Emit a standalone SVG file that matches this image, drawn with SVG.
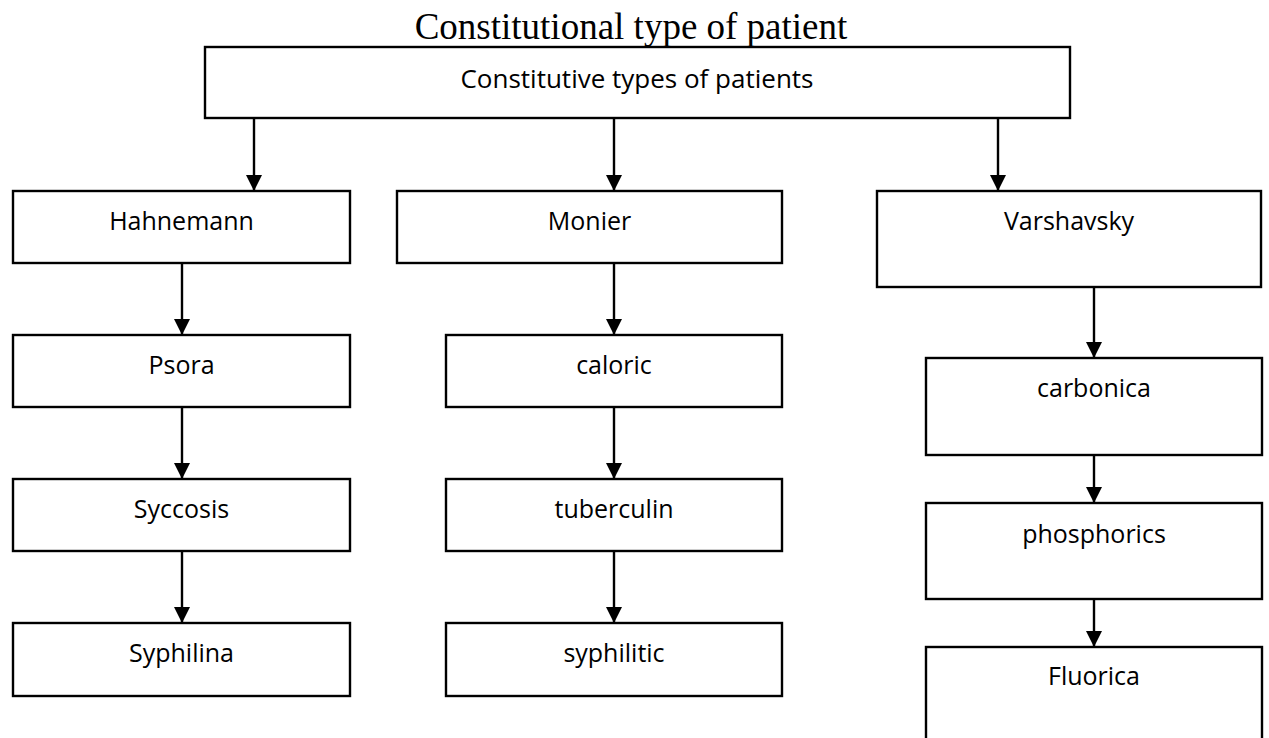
<svg xmlns="http://www.w3.org/2000/svg" width="1269" height="738" viewBox="0 0 1269 738">
<style>
.box{fill:#fff;stroke:#000;stroke-width:2.4}
.lbl{font-family:"Open Sans","Noto Sans",sans-serif;font-size:25px;fill:#000;text-anchor:middle}
.title{font-family:"Liberation Serif","Times New Roman",serif;font-size:37px;fill:#000;text-anchor:middle}
.con{stroke:#000;stroke-width:2.4;fill:none;marker-end:url(#ah)}
</style>
<defs>
<marker id="ah" markerUnits="userSpaceOnUse" markerWidth="17" markerHeight="16" refX="16" refY="8" orient="auto" viewBox="0 0 17 16">
<path d="M0,0 L16,8 L0,16 z" fill="#000"/>
</marker>
</defs>
<rect width="1269" height="738" fill="#fff"/>
<text class="title" x="631" y="39">Constitutional type of patient</text>
<g id="connectors">
<line class="con" x1="254" y1="118" x2="254" y2="191"/>
<line class="con" x1="614" y1="118" x2="614" y2="191"/>
<line class="con" x1="998" y1="118" x2="998" y2="191"/>
<line class="con" x1="182" y1="263" x2="182" y2="335"/>
<line class="con" x1="182" y1="407" x2="182" y2="479"/>
<line class="con" x1="182" y1="551" x2="182" y2="623"/>
<line class="con" x1="614" y1="263" x2="614" y2="335"/>
<line class="con" x1="614" y1="407" x2="614" y2="479"/>
<line class="con" x1="614" y1="551" x2="614" y2="623"/>
<line class="con" x1="1094" y1="287" x2="1094" y2="358"/>
<line class="con" x1="1094" y1="455" x2="1094" y2="503"/>
<line class="con" x1="1094" y1="599" x2="1094" y2="647"/>
</g>
<g id="root"><rect class="box" x="205" y="47" width="865" height="71"/><text class="lbl" x="637" y="88" style="font-size:26px">Constitutive types of patients</text></g>
<g id="hahnemann"><rect class="box" x="13" y="191" width="337" height="72"/><text class="lbl" x="181.5" y="230">Hahnemann</text></g>
<g id="psora"><rect class="box" x="13" y="335" width="337" height="72"/><text class="lbl" x="181.5" y="374">Psora</text></g>
<g id="syccosis"><rect class="box" x="13" y="479" width="337" height="72"/><text class="lbl" x="181.5" y="518">Syccosis</text></g>
<g id="syphilina"><rect class="box" x="13" y="623" width="337" height="73"/><text class="lbl" x="181.5" y="662">Syphilina</text></g>
<g id="monier"><rect class="box" x="397" y="191" width="385" height="72"/><text class="lbl" x="589.5" y="230">Monier</text></g>
<g id="caloric"><rect class="box" x="446" y="335" width="336" height="72"/><text class="lbl" x="614" y="374">caloric</text></g>
<g id="tuberculin"><rect class="box" x="446" y="479" width="336" height="72"/><text class="lbl" x="614" y="518">tuberculin</text></g>
<g id="syphilitic"><rect class="box" x="446" y="623" width="336" height="73"/><text class="lbl" x="614" y="662">syphilitic</text></g>
<g id="varshavsky"><rect class="box" x="877" y="191" width="384" height="96"/><text class="lbl" x="1069" y="230">Varshavsky</text></g>
<g id="carbonica"><rect class="box" x="926" y="358" width="336" height="97"/><text class="lbl" x="1094" y="397">carbonica</text></g>
<g id="phosphorics"><rect class="box" x="926" y="503" width="336" height="96"/><text class="lbl" x="1094" y="543">phosphorics</text></g>
<g id="fluorica"><rect class="box" x="926" y="647" width="336" height="100"/><text class="lbl" x="1094" y="685">Fluorica</text></g>
</svg>
